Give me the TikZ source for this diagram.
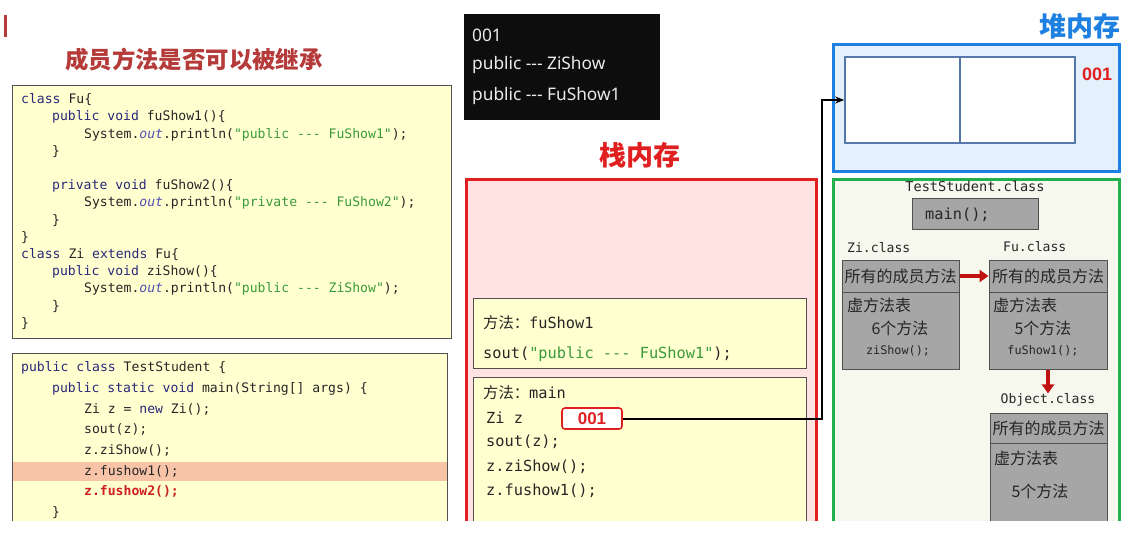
\documentclass[tikz,border=0pt]{standalone}
\usepackage{fontspec}
\setmainfont{Noto Sans}
\newfontfamily\cjk{Noto Sans CJK SC}
\newfontfamily\codef{DejaVu Sans Mono}
\newfontfamily\bsans{Liberation Sans}
\usetikzlibrary{arrows.meta}
\definecolor{titlered}{HTML}{B53A3A}
\definecolor{stackred}{HTML}{E02020}
\definecolor{errred}{HTML}{CC2020}
\definecolor{heapblue}{HTML}{1E80E0}
\definecolor{stackfill}{HTML}{FFE3E3}
\definecolor{codeyel}{HTML}{FFFFD0}
\definecolor{heapfill}{HTML}{E4F0FB}
\definecolor{methgreen}{HTML}{22B04E}
\definecolor{methfill}{HTML}{F6F8EE}
\definecolor{greybox}{HTML}{A6A6A6}
\definecolor{greyline}{HTML}{505050}
\definecolor{hilite}{HTML}{F8C4A8}
\definecolor{consolebg}{HTML}{0D0D0D}
\definecolor{kwc}{HTML}{28287A}
\definecolor{codec}{HTML}{262626}
\definecolor{strc}{HTML}{3A9A3A}
\definecolor{outc}{HTML}{5050B0}
\definecolor{objline}{HTML}{5577AA}
\definecolor{arrred}{HTML}{C01010}
\newcommand\kw[1]{\textcolor{kwc}{#1}}
\newcommand\jstr[1]{\textcolor{strc}{#1}}
\newcommand\jout{\textcolor{outc}{\itshape out}}
\begin{document}
\begin{tikzpicture}[x=1pt,y=-1pt,
  codeln/.style={anchor=west, inner sep=0pt, font=\codef\fontsize{13.1}{15}\selectfont, text=codec},
  frameln/.style={anchor=west, inner sep=0pt, font=\codef\fontsize{15.3}{18}\selectfont, text=codec},
  codebox/.style={draw=greyline, line width=1pt, fill=codeyel},
  cls/.style={inner sep=0pt, font=\codef\fontsize{13.1}{15}\selectfont, text=codec},
  gbox/.style={draw=greyline, line width=1pt, fill=greybox, inner sep=0pt, text=codec},
  cjkt/.style={inner sep=0pt, font=\cjk\fontsize{16}{18}\selectfont, text=codec},
  smallcode/.style={inner sep=0pt, font=\codef\fontsize{11.8}{14}\selectfont, text=codec},
  redarr/.style={draw=arrred, line width=3.5pt, -{Triangle[length=9pt,width=12pt]}},
  contxt/.style={anchor=west, inner sep=0pt, font=\fontsize{17.3}{20}\selectfont, text=white!92!black}
]
\useasboundingbox (0,0) rectangle (1126,537);

% left red mark and title
\fill[titlered] (4,15) rectangle (6.5,37);
\node[inner sep=0pt, font=\cjk\bfseries\fontsize{23.4}{26}\selectfont, text=titlered, anchor=west] (title) at (65,60) {成员方法是否可以被继承};

% code box 1
\node[codebox, minimum width=439, minimum height=252] (fucode) at (231.5,212) {};
\node[codeln] (c1) at (21,100) {\kw{class} Fu\{};
\node[codeln] (c2) at (52,117.2) {\kw{public} \kw{void} fuShow1()\{};
\node[codeln] (c3) at (84,134.4) {System.\jout.println(\jstr{"public -{}-{}- FuShow1"});};
\node[codeln] (c4) at (52,151.6) {\}};
\node[codeln] (c6) at (52,186) {\kw{private} \kw{void} fuShow2()\{};
\node[codeln] (c7) at (84,203.2) {System.\jout.println(\jstr{"private -{}-{}- FuShow2"});};
\node[codeln] (c8) at (52,220.4) {\}};
\node[codeln] (c9) at (21,237.6) {\}};
\node[codeln] (c10) at (21,254.8) {\kw{class} Zi \kw{extends} Fu\{};
\node[codeln] (c11) at (52,272) {\kw{public} \kw{void} ziShow()\{};
\node[codeln] (c12) at (84,289.2) {System.\jout.println(\jstr{"public -{}-{}- ZiShow"});};
\node[codeln] (c13) at (52,306.4) {\}};
\node[codeln] (c14) at (21,323.6) {\}};

% code box 2
\node[codebox, minimum width=435, minimum height=177, anchor=north west] (tscode) at (12,353) {};
\fill[hilite] (12.5,462) rectangle (446.5,481);
\node[codeln] (t1) at (21,368) {\kw{public} \kw{class} TestStudent \{};
\node[codeln] (t2) at (52,388.6) {\kw{public} \kw{static} \kw{void} main(String[] args) \{};
\node[codeln] (t3) at (84,409.2) {Zi z = \kw{new} Zi();};
\node[codeln] (t4) at (84,429.8) {sout(z);};
\node[codeln] (t5) at (84,450.4) {z.ziShow();};
\node[codeln] (t6) at (84,471) {z.fushow1();};
\node[codeln] (t7) at (84,491.6) {\textcolor{errred}{\bfseries z.fushow2();}};
\node[codeln] (t8) at (52,512.2) {\}};

% console
\node[fill=consolebg, minimum width=196, minimum height=106, anchor=north west, inner sep=0pt] (console) at (464,14) {};
\node[contxt] (o1) at (472,35) {001};
\node[contxt] (o2) at (472,65) {public -{}-{}- ZiShow};
\node[contxt] (o3) at (472,96) {public -{}-{}- FuShow1};

% stack
\node[inner sep=0pt, font=\cjk\bfseries\fontsize{27}{30}\selectfont, text=stackred] (stacktitle) at (640,155) {栈内存};
\node[draw=stackred, line width=3pt, fill=stackfill, minimum width=350, minimum height=352, anchor=north west] (stack) at (465,178) {};
\node[codebox, minimum width=333, minimum height=70, anchor=north west] (frame1) at (473,298) {};
\node[frameln] (f1a) at (483,323) {{\cjk 方法：}fuShow1};
\node[frameln] (f1b) at (483,354) {sout(\jstr{"public -{}-{}- FuShow1"});};
\node[codebox, minimum width=333, minimum height=153, anchor=north west] (frame2) at (473,377) {};
\node[frameln] (f2a) at (483,393) {{\cjk 方法：}main};
\node[frameln] (f2b) at (486,418) {Zi z};
\node[draw=stackred, line width=1.6pt, fill=white, rounded corners=3pt, minimum width=60, minimum height=21, inner sep=0pt, font=\bsans\bfseries\fontsize{17}{19}\selectfont, text=stackred] (zref) at (592,418.5) {001};
\node[frameln] (f2c) at (486,442) {sout(z);};
\node[frameln] (f2d) at (486,466.5) {z.ziShow();};
\node[frameln] (f2e) at (486,491) {z.fushow1();};

% heap
\node[inner sep=0pt, font=\cjk\bfseries\fontsize{27}{30}\selectfont, text=heapblue, anchor=east] (heaptitle) at (1121,26) {堆内存};
\node[draw=heapblue, line width=3pt, fill=heapfill, minimum width=286, minimum height=127, anchor=north west] (heap) at (832,43) {};
\node[draw=objline, line width=1.6pt, fill=white, minimum width=230, minimum height=86, inner sep=0pt] (obj) at (960,100) {};
\draw[objline, line width=1.6pt] (obj.north) -- (obj.south);
\node[inner sep=0pt, font=\bsans\bfseries\fontsize{18}{20}\selectfont, text=stackred] (heapaddr) at (1097,74) {001};

% reference connector
\coordinate (bend) at (822,100);
\draw[line width=2pt, -{Stealth[length=9pt,width=7pt]}] (zref.east) -| (bend) -- (obj.west);

% method area
\node[draw=methgreen, line width=3pt, fill=methfill, minimum width=286, minimum height=352, anchor=north west] (meth) at (832,178) {};
\node[cls, font=\codef\fontsize{13.6}{16}\selectfont] (tsclass) at (975,186) {TestStudent.class};
\node[gbox, minimum width=126, minimum height=31] (mainbox) at (975,214.5) {};
\node[anchor=west, inner sep=0pt, font=\codef\fontsize{15.3}{18}\selectfont, text=codec] (maintxt) at (925,215) {main();};

\node[cls, anchor=west] (zilabel) at (847,248) {Zi.class};
\node[cls, anchor=west] (fulabel) at (1003,247) {Fu.class};

\node[gbox, minimum width=117, minimum height=32, font=\cjk\fontsize{16}{18}\selectfont] (zitop) at (900.5,276) {所有的成员方法};
\node[gbox, minimum width=117, minimum height=77] (zibody) at (900.5,330.5) {};
\node[cjkt, anchor=west] (zivt) at (847,305) {虚方法表};
\node[cjkt] (zin) at (900,328) {6个方法};
\node[smallcode] (zim) at (898,351) {ziShow();};

\node[gbox, minimum width=118, minimum height=32, font=\cjk\fontsize{16}{18}\selectfont] (futop) at (1048,276) {所有的成员方法};
\node[gbox, minimum width=118, minimum height=77] (fubody) at (1048,330.5) {};
\node[cjkt, anchor=west] (fuvt) at (993,305) {虚方法表};
\node[cjkt] (fun) at (1043,328) {5个方法};
\node[smallcode] (fum) at (1043,351) {fuShow1();};

\draw[redarr] (zitop.east) -- (futop.west);

\node[cls] (objlabel) at (1048,400) {Object.class};
\draw[redarr] (fubody.south) -- (objlabel.north);

\node[gbox, minimum width=117, minimum height=30, font=\cjk\fontsize{16}{18}\selectfont] (objtop) at (1048.5,428) {所有的成员方法};
\node[gbox, minimum width=117, minimum height=87, anchor=north] (objbody) at (1048.5,443) {};
\node[cjkt, anchor=west] (objvt) at (994,458) {虚方法表};
\node[cjkt] (objn) at (1040,491) {5个方法};

% bottom crop
\fill[white] (0,521) rectangle (1126,537);
\end{tikzpicture}
\end{document}
